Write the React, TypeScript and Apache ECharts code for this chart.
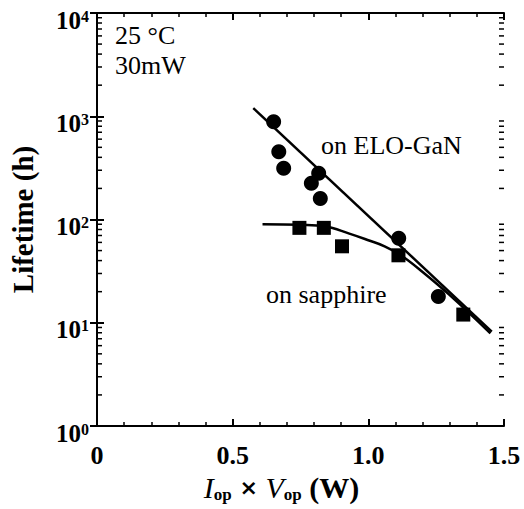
import React, { useEffect, useRef } from "react";
import * as echarts from "echarts";

const xTicks = [0, 0.5, 1.0, 1.5];
const yMinorTicks = [
  2, 3, 4, 5, 6, 7, 8, 9,
  20, 30, 40, 50, 60, 70, 80, 90,
  200, 300, 400, 500, 600, 700, 800, 900,
  2000, 3000, 4000, 5000, 6000, 7000, 8000, 9000,
];

const eloX = [0.651, 0.67, 0.688, 0.79, 0.817, 0.823, 1.112, 1.258];
const eloY = [885, 454, 313, 224, 280, 160, 66, 18];

const sapX = [0.746, 0.836, 0.903, 1.111, 1.35];
const sapY = [83, 83, 55, 45, 12];

const eloFitX = [0.576, 1.455];
const eloFitY = [1200, 8.2];

const sapFitX = [0.61, 0.75, 0.84, 0.93, 1.0, 1.06, 1.12, 1.2, 1.3, 1.45];
const sapFitY = [90, 89, 86, 73, 63, 55, 45, 31, 18.5, 7.9];

const FONT = "Liberation Serif";

export default function App() {
  const ref = useRef<HTMLDivElement>(null);
  useEffect(() => {
    if (!ref.current) return;
    const chart = echarts.init(ref.current, null, { renderer: "svg" });
    const zip = (xs: number[], ys: number[]) => xs.map((x, i) => [x, ys[i]]);
    const supMap: Record<number, string> = { 1: "0", 10: "1", 100: "2", 1000: "3", 10000: "4" };
    const xAxisBase = {
      type: "value",
      min: 0,
      max: 1.5,
      interval: 0.5,
      axisLine: { show: true, lineStyle: { color: "#000", width: 2 } },
      axisTick: { show: true, inside: true, length: 7, lineStyle: { color: "#000", width: 2 } },
      minorTick: { show: true, splitNumber: 5, length: 4, lineStyle: { color: "#000", width: 1.5 } },
      splitLine: { show: false },
      minorSplitLine: { show: false },
    };
    const yAxisBase = {
      type: "log",
      logBase: 10,
      min: 1,
      max: 10000,
      axisLine: { show: true, lineStyle: { color: "#000", width: 2 } },
      axisTick: { show: true, inside: true, length: 7, lineStyle: { color: "#000", width: 2 } },
      splitLine: { show: false },
    };
    const txt = (text: string, left: number, top: number) => ({
      type: "text",
      left,
      top,
      style: { text, fontFamily: FONT, fontSize: 26, fill: "#000" },
    });
    chart.setOption({
      animation: false,
      backgroundColor: "#fff",
      grid: { left: 97, right: 20, top: 13, bottom: 83 },
      xAxis: [
        {
          ...xAxisBase,
          position: "bottom",
          axisLabel: {
            show: true,
            margin: 16,
            color: "#000",
            fontFamily: FONT,
            fontWeight: "bold",
            fontSize: 26,
            formatter: (v: number) => (xTicks.indexOf(v) >= 0 ? (v === 0 ? "0" : v.toFixed(1)) : ""),
          },
          name: "{i|I}{sub|op}{x| × }{i|V}{sub|op}{b| (W)}",
          nameLocation: "middle",
          nameGap: 46,
          nameTextStyle: {
            padding: [0, 38, 0, 0],
            rich: {
              i: { fontFamily: FONT, fontStyle: "italic", fontSize: 30, lineHeight: 30, color: "#000" },
              sub: { fontFamily: FONT, fontWeight: "bold", fontSize: 17, lineHeight: 12, verticalAlign: "bottom", color: "#000" },
              x: { fontFamily: "DejaVu Sans", fontWeight: "bold", fontSize: 22, lineHeight: 30, color: "#000" },
              b: { fontFamily: FONT, fontWeight: "bold", fontSize: 30, lineHeight: 30, color: "#000" },
            },
          },
        },
        { ...xAxisBase, position: "top", axisLabel: { show: false } },
      ],
      yAxis: [
        {
          ...yAxisBase,
          position: "left",
          axisLabel: {
            show: true,
            margin: 8,
            color: "#000",
            padding: [14, 0, 0, 0],
            formatter: (v: number) => `{b|10}{s|${supMap[Math.round(v)] ?? ""}}`,
            rich: {
              b: { fontFamily: FONT, fontWeight: "bold", fontSize: 25, lineHeight: 24, color: "#000" },
              s: { fontFamily: FONT, fontWeight: "bold", fontSize: 16, lineHeight: 14, verticalAlign: "top", color: "#000" },
            },
          },
          name: "Lifetime (h)",
          nameLocation: "middle",
          nameGap: 60,
          nameRotate: 90,
          nameTextStyle: { fontFamily: FONT, fontWeight: "bold", fontSize: 29, color: "#000" },
        },
        { ...yAxisBase, position: "right", axisLabel: { show: false } },
      ],
      graphic: [
        txt("25 °C", 115, 22),
        txt("30mW", 115, 52),
        txt("on ELO-GaN", 321, 132),
        txt("on sapphire", 266, 281),
      ],
      series: [
        {
          type: "custom",
          xAxisIndex: 0,
          yAxisIndex: 0,
          clip: false,
          silent: true,
          data: yMinorTicks.map((v) => [0, v]),
          renderItem: (params: any, api: any) => {
            const v = api.value(1);
            const pL = api.coord([0, v]);
            const pR = api.coord([1.5, v]);
            const st = { stroke: "#000", lineWidth: 1.5 };
            return {
              type: "group",
              children: [
                { type: "line", shape: { x1: pL[0], y1: pL[1], x2: pL[0] + 5, y2: pL[1] }, style: st },
                { type: "line", shape: { x1: pR[0] - 5, y1: pR[1], x2: pR[0], y2: pR[1] }, style: st },
              ],
            };
          },
        },
        {
          type: "line",
          data: zip(eloFitX, eloFitY),
          showSymbol: false,
          symbol: "none",
          lineStyle: { color: "#000", width: 2.5 },
          z: 2,
        },
        {
          type: "line",
          data: zip(sapFitX, sapFitY),
          smooth: 0.4,
          showSymbol: false,
          symbol: "none",
          lineStyle: { color: "#000", width: 2.5 },
          z: 2,
        },
        {
          type: "scatter",
          data: zip(eloX, eloY),
          symbol: "circle",
          symbolSize: 15,
          itemStyle: { color: "#000", opacity: 1 },
          z: 3,
        },
        {
          type: "scatter",
          data: zip(sapX, sapY),
          symbol: "rect",
          symbolSize: 14,
          itemStyle: { color: "#000", opacity: 1 },
          z: 3,
        },
      ],
    });
    return () => chart.dispose();
  }, []);
  return <div ref={ref} style={{ width: 524, height: 509, position: "absolute", left: 0, top: 0 }} />;
}
